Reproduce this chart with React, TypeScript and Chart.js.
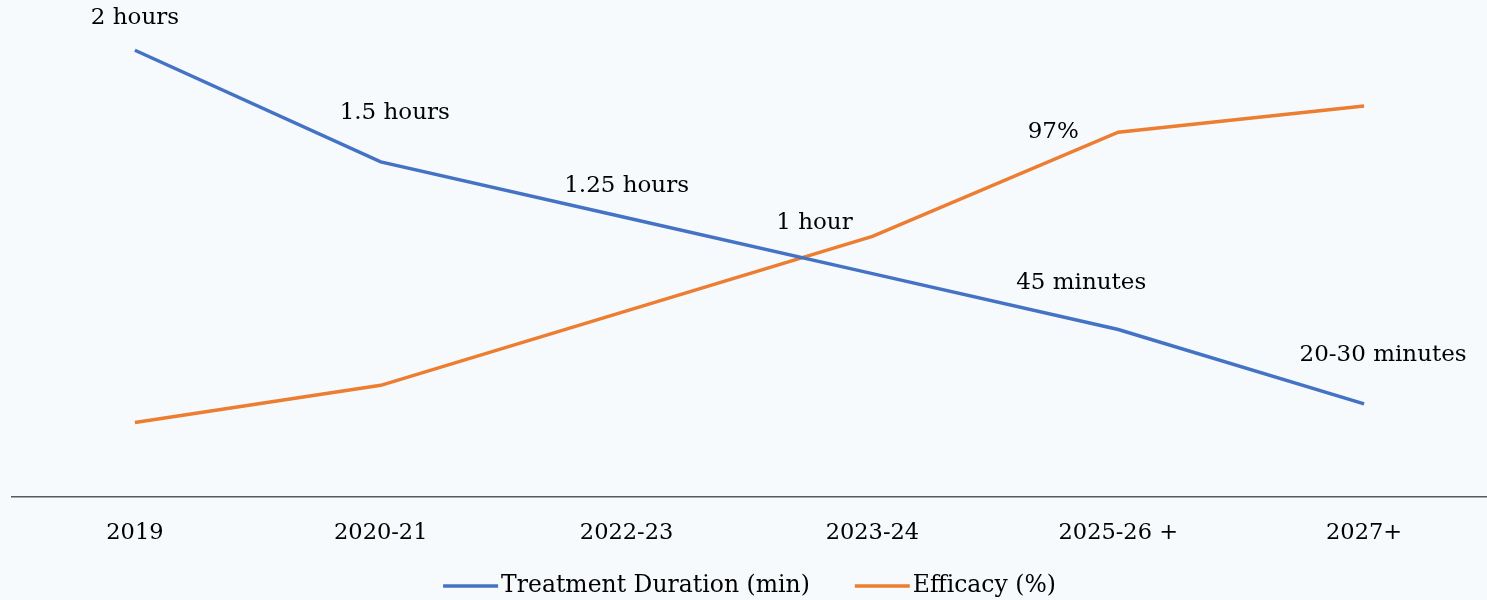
import React, { useEffect, useRef } from "react";
import { Chart, registerables } from "chart.js";

Chart.register(...registerables);

const categories = ["2019", "2020-21", "2022-23", "2023-24", "2025-26 +", "2027+"];
const durationValues = [120, 90, 75, 60, 45, 25];
const efficacyValues = [20, 30, 50, 70, 98, 105];
const durationLabels = ["2 hours", "1.5 hours", "1.25 hours", "1 hour", "45 minutes", "20-30 minutes"];
const efficacyLabels = ["", "", "", "", "97%", ""];

// label offsets relative to their points (style, not data)
const durationOffsets = [
  [0, -32], [14, -49], [0, -32], [-58, -51], [-37, -46], [19, -49],
];
const efficacyOffsets = [
  [0, 0], [0, 0], [0, 0], [0, 0], [-65, 0], [0, 0],
];

const FONT = "'DejaVu Serif', Georgia, serif";
const BG = "#F7FAFC";
const BLUE = "#4472C4";
const ORANGE = "#ED7D31";

const bgPlugin = {
  id: "bg",
  beforeDraw(chart: any) {
    const ctx = chart.ctx;
    ctx.save();
    ctx.fillStyle = BG;
    ctx.fillRect(0, 0, chart.width, chart.height);
    ctx.restore();
  },
};

const labelPlugin = {
  id: "pointLabels",
  afterDatasetsDraw(chart: any) {
    const ctx = chart.ctx;
    ctx.save();
    ctx.font = `23px ${FONT}`;
    ctx.fillStyle = "#000";
    ctx.textAlign = "center";
    ctx.textBaseline = "middle";
    const sets = [
      { labels: durationLabels, offsets: durationOffsets },
      { labels: efficacyLabels, offsets: efficacyOffsets },
    ];
    sets.forEach((s, di) => {
      const meta = chart.getDatasetMeta(di);
      meta.data.forEach((pt: any, i: number) => {
        const t = s.labels[i];
        if (!t) return;
        ctx.fillText(t, pt.x + s.offsets[i][0], pt.y + s.offsets[i][1]);
      });
    });
    ctx.restore();
  },
};

const legendPlugin = {
  id: "customLegend",
  afterDraw(chart: any) {
    const ctx = chart.ctx;
    ctx.save();
    ctx.font = `23.5px ${FONT}`;
    ctx.textBaseline = "middle";
    ctx.textAlign = "left";
    const boxW = 55;
    const gap = 3;
    const itemGap = 45;
    const items = chart.data.datasets.map((d: any) => ({
      label: d.label,
      color: d.borderColor,
      w: boxW + gap + ctx.measureText(d.label).width,
    }));
    const total = items.reduce((a: number, it: any) => a + it.w, 0) + itemGap * (items.length - 1);
    const ca = chart.chartArea;
    let x = (ca.left + ca.right) / 2 - total / 2;
    const y = chart.height - 14;
    items.forEach((it: any) => {
      ctx.strokeStyle = it.color;
      ctx.lineWidth = 3.5;
      ctx.beginPath();
      ctx.moveTo(x, y);
      ctx.lineTo(x + boxW, y);
      ctx.stroke();
      ctx.fillStyle = "#000";
      ctx.fillText(it.label, x + boxW + gap, y);
      x += it.w + itemGap;
    });
    ctx.restore();
  },
};

export default function App() {
  const ref = useRef<HTMLCanvasElement>(null);
  useEffect(() => {
    if (!ref.current) return;
    const chart = new Chart(ref.current, {
      type: "line",
      data: {
        labels: categories,
        datasets: [
          {
            label: "Treatment Duration (min)",
            data: durationValues,
            borderColor: BLUE,
            backgroundColor: BLUE,
            borderWidth: 3.5,
            pointRadius: 0,
            tension: 0,
          },
          {
            label: "Efficacy (%)",
            data: efficacyValues,
            borderColor: ORANGE,
            backgroundColor: ORANGE,
            borderWidth: 3.5,
            pointRadius: 0,
            tension: 0,
          },
        ],
      },
      options: {
        responsive: false,
        animation: false,
        layout: { padding: { left: 12, right: 0, top: 13, bottom: 30 } },
        scales: {
          x: {
            offset: true,
            grid: { display: false, drawTicks: false },
            border: { display: true, color: "#595959", width: 1.5 },
            ticks: { color: "#000", font: { family: FONT, size: 22.5 }, padding: 23 },
          },
          y: { display: false, min: 0, max: 130 },
        },
        plugins: {
          legend: { display: false },
          tooltip: { enabled: false },
        },
      },
      plugins: [bgPlugin, labelPlugin, legendPlugin],
    });
    return () => chart.destroy();
  }, []);
  return (
    <canvas
      ref={ref}
      width={1487}
      height={600}
      style={{ position: "fixed", left: 0, top: 0, display: "block" }}
    />
  );
}
